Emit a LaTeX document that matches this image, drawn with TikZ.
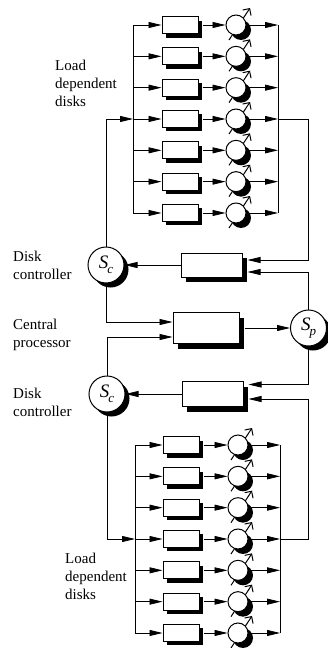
\documentclass[tikz,border=0pt]{standalone}
\usepackage{fontspec}
\setmainfont{Liberation Serif}
\usetikzlibrary{arrows.meta,shadows,calc}
\begin{document}
\begin{tikzpicture}[x=1pt,y=-1pt,
  conn/.style={line width=0.75pt},
  arr/.style={conn,-{Triangle[length=13pt,width=6pt]}},
  shad/.style={drop shadow={shadow xshift=#1,shadow yshift=-#1,opacity=1,fill=black}},
  qbox/.style={draw,line width=1pt,fill=white,minimum width=36pt,minimum height=17pt,inner sep=0pt,shad=4pt},
  cbox/.style={draw,line width=1pt,fill=white,minimum width=61pt,minimum height=24pt,inner sep=0pt,shad=5pt},
  disk/.style={circle,draw,line width=1pt,fill=white,minimum size=20pt,inner sep=0pt,shad=5pt},
  srv/.style={circle,draw,line width=1pt,fill=white,minimum size=36pt,inner sep=0pt,shad=4.5pt},
  diag/.style={line width=1pt,-{Straight Barb[length=5pt,width=10pt]}},
  lbl/.style={align=left,anchor=west,inner sep=0pt,font=\fontsize{15}{18}\selectfont},
  sl/.style={font=\fontsize{19}{19}\selectfont\itshape}
]
\useasboundingbox (0,0) rectangle (328,648);
% labels
\node[lbl] (ltop) at (55,83.5) {Load\\dependent\\disks};
\node[lbl] (lbot) at (65,576) {Load\\dependent\\disks};
\node[lbl] (ldc1) at (13,265) {Disk\\controller};
\node[lbl] (lcp) at (13,335) {Central\\processor};
\node[lbl] (ldc2) at (13,402) {Disk\\controller};
% top disk bank
\foreach \i in {0,...,6} {
  \pgfmathsetmacro\yy{25+31.33*\i}
  \coordinate (tc\i) at (236,\yy);
  \draw[diag] ([shift={(-7,15)}]tc\i) -- ([shift={(14,-17)}]tc\i);
  \node[qbox] (tb\i) at (180,\yy) {};
  \node[disk] (td\i) at (tc\i) {};
  \coordinate (tl\i) at (133,\yy);
  \coordinate (tr\i) at (278,\yy);
  \draw[arr] (tl\i) -- (tb\i.west);
  \draw[arr] ([xshift=4pt]tb\i.east) -- (td\i.west);
  \draw[arr] (td\i.east) -- (tr\i);
}
\draw[conn] (tl0) -- (tl6);
\draw[conn] (tr0) -- (tr6);
% bottom disk bank
\foreach \i in {0,...,6} {
  \pgfmathsetmacro\yy{445+31.33*\i}
  \coordinate (bc\i) at (238,\yy);
  \draw[diag] ([shift={(-7,15)}]bc\i) -- ([shift={(14,-17)}]bc\i);
  \node[qbox] (bb\i) at (181,\yy) {};
  \node[disk] (bd\i) at (bc\i) {};
  \coordinate (bl\i) at (135,\yy);
  \coordinate (br\i) at (280,\yy);
  \draw[arr] (bl\i) -- (bb\i.west);
  \draw[arr] ([xshift=4pt]bb\i.east) -- (bd\i.west);
  \draw[arr] (bd\i.east) -- (br\i);
}
\draw[conn] (bl0) -- (bl6);
\draw[conn] (br0) -- (br6);
% controllers and processor
\node[cbox] (uc) at (211.5,265) {};
\node[srv] (usc) at (106,265) {};
\node[sl] at (usc) {S\kern-1pt\raisebox{-5pt}{\fontsize{13}{13}\selectfont c}};
\node[cbox,minimum width=66pt,minimum height=31pt] (cp) at (206,328) {};
\node[srv] (sp) at (308.5,328) {};
\node[sl] at (sp) {S\kern-1pt\raisebox{-5pt}{\fontsize{13}{13}\selectfont p}};
\node[cbox,minimum height=25pt] (lc) at (212.5,394) {};
\node[srv] (lsc) at (107,394) {};
\node[sl] at (lsc) {S\kern-1pt\raisebox{-5pt}{\fontsize{13}{13}\selectfont c}};
\coordinate (ucin1) at ($(uc.east)+(5,-5)$);
\coordinate (ucin2) at ($(uc.east)+(5,7)$);
\coordinate (lcin1) at ($(lc.east)+(5,-9.5)$);
\coordinate (lcin2) at ($(lc.east)+(5,5)$);
\coordinate (cpin1) at ($(cp.west)+(0,-6)$);
\coordinate (cpin2) at ($(cp.west)+(0,9)$);
% connectors
\draw[arr] (usc.north) |- (tl3);
\draw[arr] (tr3) -- (tr3 -| sp) |- (ucin1);
\draw[arr] (sp.north) |- (ucin2);
\draw[arr] (uc.west) -- (usc.east);
\draw[arr] (usc.south) |- (cpin1);
\draw[arr] (lsc.north) |- (cpin2);
\draw[arr] ([xshift=5pt]cp.east) -- (sp.west);
\draw[arr] (sp.south) |- (lcin1);
\draw[arr] (br3) -- (br3 -| sp) |- (lcin2);
\draw[arr] (lc.west) -- (lsc.east);
\draw[arr] (lsc.south) |- (bl3);
\end{tikzpicture}
\end{document}
